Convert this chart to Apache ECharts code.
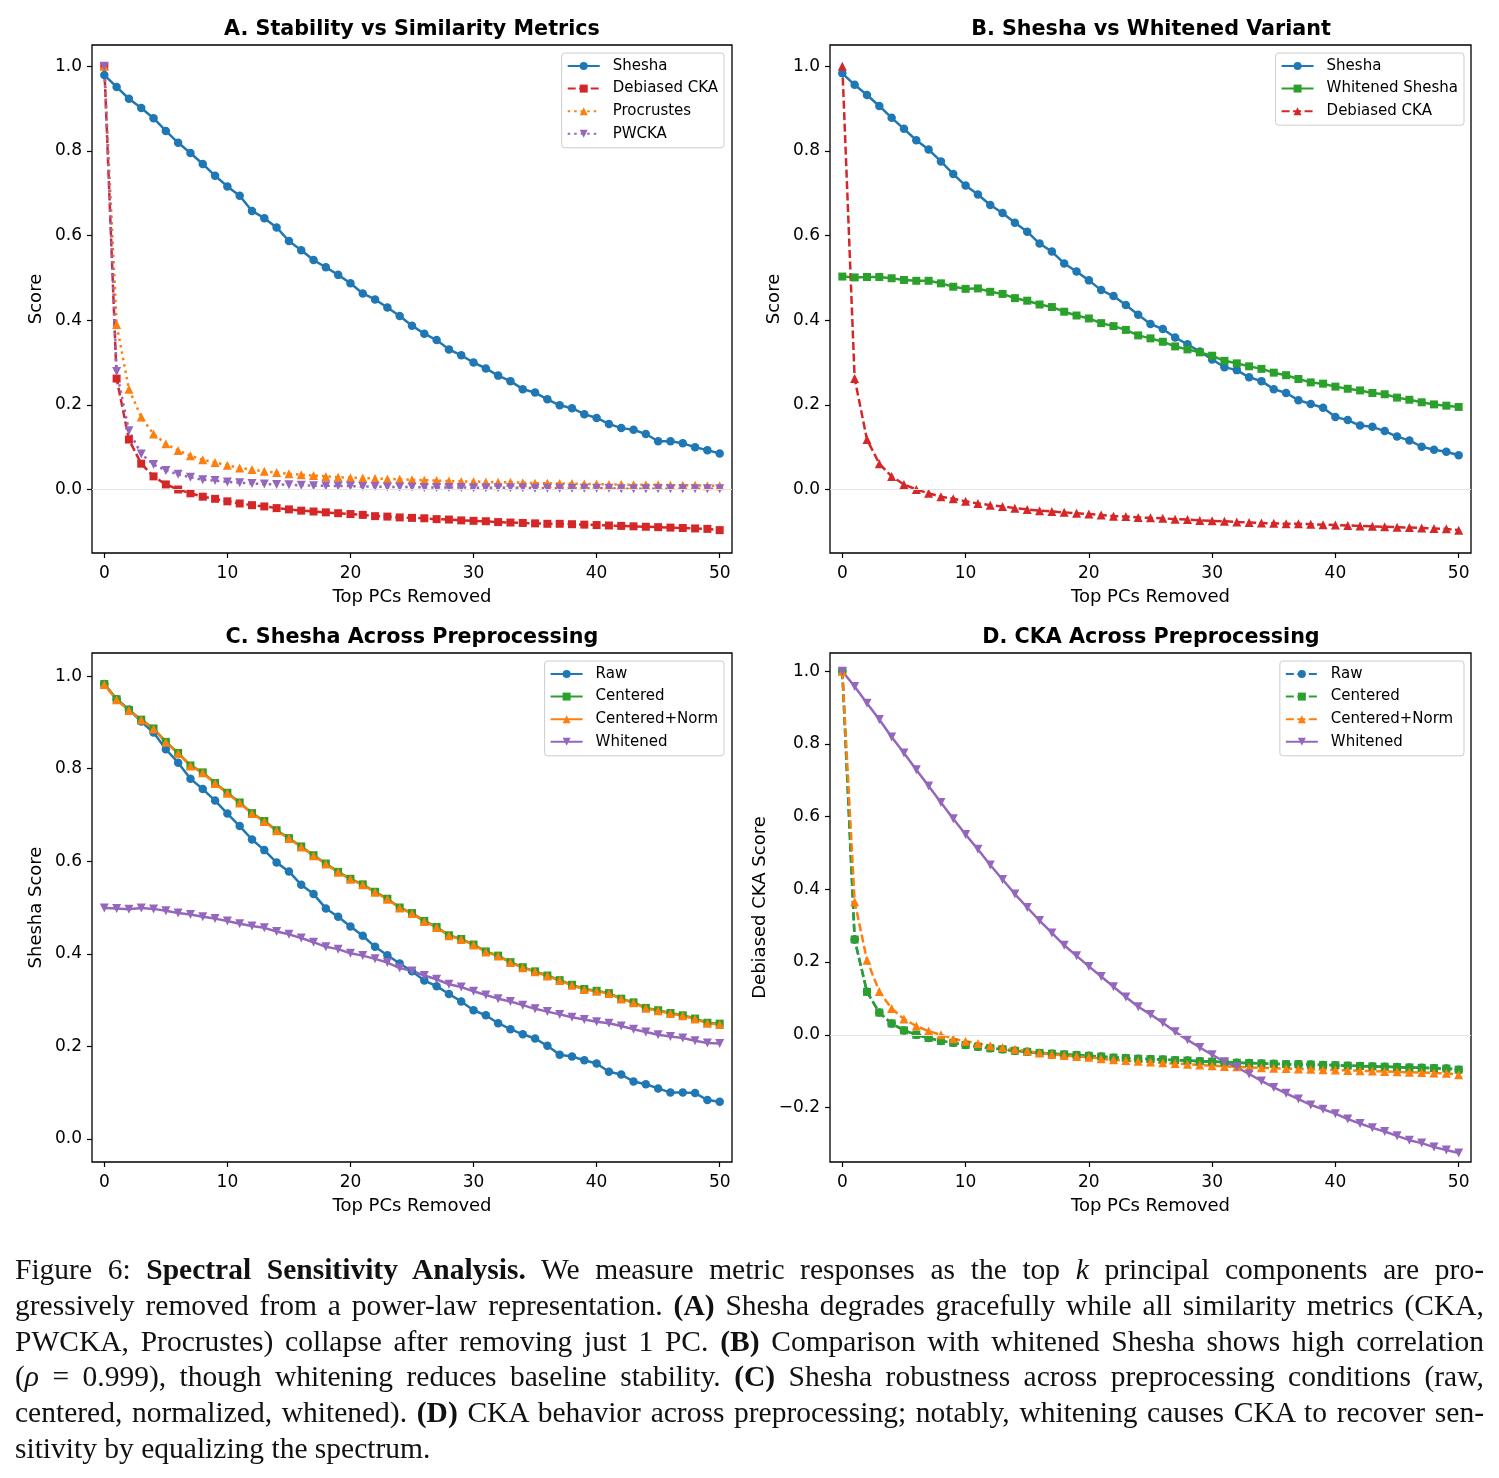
<!DOCTYPE html>
<html>
<head>
<meta charset="utf-8">
<script src="https://cdn.jsdelivr.net/npm/echarts@6/dist/echarts.min.js"></script>
<style>
  body { margin: 0; background: #fff; }
  #chart { position: absolute; left: 0; top: 0; width: 1499px; height: 1478px; }
  #caption {
    position: absolute; left: 15px; top: 1252px; width: 1469px;
    font-family: 'Liberation Serif', serif; font-size: 29.5px; line-height: 35.8px; color: #111;
  }
  #caption div { text-align: justify; text-align-last: justify; }
  #caption div.last { text-align-last: left; }
</style>
</head>
<body>
<div id="chart"></div>
<div id="caption">
  <div>Figure 6: <b>Spectral Sensitivity Analysis.</b> We measure metric responses as the top <i>k</i> principal components are pro-</div>
  <div>gressively removed from a power-law representation. <b>(A)</b> Shesha degrades gracefully while all similarity metrics (CKA,</div>
  <div>PWCKA, Procrustes) collapse after removing just 1 PC. <b>(B)</b> Comparison with whitened Shesha shows high correlation</div>
  <div>(<i>ρ</i> = 0.999), though whitening reduces baseline stability. <b>(C)</b> Shesha robustness across preprocessing conditions (raw,</div>
  <div>centered, normalized, whitened). <b>(D)</b> CKA behavior across preprocessing; notably, whitening causes CKA to recover sen-</div>
  <div class="last">sitivity by equalizing the spectrum.</div>
</div>
<script>
// x: number of top PCs removed
const pcsRemoved = [0,1,2,3,4,5,6,7,8,9,10,11,12,13,14,15,16,17,18,19,20,21,22,23,24,25,
  26,27,28,29,30,31,32,33,34,35,36,37,38,39,40,41,42,43,44,45,46,47,48,49,50]

const xTicks = [0, 10, 20, 30, 40, 50]
const yTicksTop = [0, 0.2, 0.4, 0.6, 0.8, 1.0]
const yTicksC = [0, 0.2, 0.4, 0.6, 0.8, 1.0]
const yTicksD = [-0.2, 0, 0.2, 0.4, 0.6, 0.8, 1.0]

// panel A
const sheshaA = [0.979,0.951,0.923,0.901,0.877,0.847,0.819,0.795,0.769,0.741,
  0.716,0.694,0.658,0.641,0.619,0.587,0.565,0.542,0.525,0.507,
  0.487,0.463,0.449,0.430,0.410,0.387,0.368,0.353,0.331,0.317,
  0.300,0.286,0.269,0.256,0.237,0.229,0.213,0.199,0.192,0.178,
  0.169,0.155,0.145,0.141,0.131,0.114,0.114,0.109,0.100,0.093,0.085]
const debiasedCka = [1.000,0.262,0.118,0.061,0.031,0.012,0.000,-0.009,-0.017,-0.022,
  -0.028,-0.033,-0.037,-0.040,-0.044,-0.047,-0.050,-0.052,-0.054,-0.056,
  -0.058,-0.060,-0.063,-0.064,-0.066,-0.067,-0.068,-0.070,-0.071,-0.073,
  -0.074,-0.075,-0.077,-0.078,-0.079,-0.080,-0.081,-0.081,-0.082,-0.083,
  -0.084,-0.085,-0.086,-0.087,-0.088,-0.089,-0.090,-0.091,-0.092,-0.093,-0.096]
const procrustes = [1.000,0.390,0.237,0.171,0.131,0.108,0.092,0.080,0.070,0.064,
  0.057,0.051,0.047,0.043,0.040,0.037,0.035,0.033,0.031,0.029,
  0.028,0.027,0.026,0.025,0.024,0.023,0.022,0.021,0.020,0.019,
  0.019,0.018,0.017,0.017,0.016,0.015,0.015,0.014,0.014,0.013,
  0.013,0.012,0.012,0.011,0.011,0.011,0.010,0.010,0.010,0.009,0.009]
const pwcka = [1.000,0.279,0.139,0.084,0.059,0.045,0.036,0.029,0.023,0.021,
  0.018,0.016,0.014,0.013,0.012,0.011,0.010,0.009,0.009,0.008,
  0.008,0.007,0.007,0.006,0.006,0.006,0.005,0.005,0.005,0.005,
  0.004,0.004,0.004,0.004,0.004,0.003,0.003,0.003,0.003,0.003,
  0.003,0.003,0.002,0.002,0.002,0.002,0.002,0.002,0.002,0.002,0.002]

// panel B
const sheshaB = [0.983,0.956,0.932,0.906,0.878,0.852,0.825,0.803,0.775,0.745,
  0.718,0.697,0.672,0.653,0.630,0.609,0.581,0.562,0.534,0.515,
  0.494,0.471,0.457,0.436,0.413,0.391,0.379,0.359,0.343,0.326,
  0.307,0.289,0.282,0.265,0.256,0.237,0.228,0.211,0.202,0.193,
  0.171,0.164,0.151,0.148,0.138,0.125,0.116,0.101,0.094,0.089,0.081]
const whitenedShesha = [0.503,0.501,0.502,0.502,0.499,0.495,0.493,0.493,0.487,0.479,
  0.474,0.475,0.467,0.462,0.452,0.446,0.437,0.431,0.420,0.411,
  0.404,0.393,0.386,0.377,0.364,0.357,0.349,0.338,0.331,0.324,
  0.316,0.304,0.298,0.291,0.285,0.276,0.270,0.261,0.253,0.250,
  0.243,0.238,0.234,0.228,0.225,0.217,0.212,0.206,0.201,0.198,0.195]

// panel C
const rawC = [0.983,0.950,0.928,0.902,0.878,0.842,0.813,0.778,0.756,0.731,
  0.703,0.676,0.647,0.624,0.597,0.578,0.549,0.529,0.498,0.480,
  0.459,0.439,0.415,0.397,0.379,0.362,0.342,0.330,0.313,0.297,
  0.278,0.267,0.250,0.237,0.226,0.217,0.201,0.182,0.178,0.170,
  0.163,0.145,0.139,0.124,0.118,0.109,0.100,0.100,0.099,0.084,0.080]
const centeredC = [0.983,0.950,0.927,0.906,0.887,0.858,0.834,0.807,0.792,0.769,
  0.748,0.727,0.704,0.687,0.667,0.650,0.632,0.613,0.595,0.577,
  0.562,0.550,0.534,0.519,0.500,0.488,0.471,0.458,0.440,0.432,
  0.420,0.405,0.396,0.382,0.371,0.362,0.353,0.343,0.333,0.324,
  0.320,0.315,0.303,0.295,0.283,0.278,0.272,0.267,0.260,0.251,0.249]
const centeredNormC = [0.982,0.949,0.926,0.905,0.886,0.857,0.833,0.806,0.791,0.768,
  0.747,0.726,0.703,0.686,0.666,0.649,0.631,0.612,0.594,0.576,
  0.561,0.549,0.533,0.518,0.499,0.487,0.470,0.457,0.439,0.431,
  0.419,0.404,0.395,0.381,0.370,0.361,0.352,0.342,0.332,0.323,
  0.319,0.314,0.302,0.294,0.282,0.277,0.271,0.266,0.259,0.250,0.247]
const whitenedC = [0.499,0.498,0.496,0.499,0.497,0.493,0.488,0.485,0.480,0.476,
  0.471,0.465,0.460,0.456,0.448,0.442,0.434,0.425,0.415,0.410,
  0.401,0.396,0.389,0.381,0.369,0.363,0.353,0.345,0.334,0.328,
  0.319,0.311,0.303,0.297,0.289,0.281,0.275,0.269,0.263,0.258,
  0.253,0.250,0.244,0.237,0.231,0.225,0.221,0.218,0.212,0.207,0.206]

// panel D
const centeredNormD = [1.000,0.366,0.205,0.119,0.072,0.043,0.024,0.010,0.000,-0.011,
  -0.018,-0.024,-0.030,-0.035,-0.040,-0.045,-0.050,-0.054,-0.057,-0.060,
  -0.062,-0.066,-0.069,-0.071,-0.073,-0.075,-0.077,-0.079,-0.081,-0.083,
  -0.085,-0.087,-0.088,-0.090,-0.091,-0.092,-0.093,-0.094,-0.095,-0.096,
  -0.097,-0.098,-0.099,-0.100,-0.101,-0.102,-0.103,-0.104,-0.105,-0.106,-0.110]
const whitenedD = [1.000,0.958,0.912,0.867,0.819,0.775,0.729,0.684,0.639,0.594,
  0.551,0.510,0.467,0.427,0.387,0.350,0.314,0.280,0.246,0.217,
  0.188,0.160,0.132,0.104,0.077,0.056,0.033,0.008,-0.014,-0.035,
  -0.055,-0.074,-0.089,-0.108,-0.127,-0.145,-0.161,-0.177,-0.193,-0.205,
  -0.217,-0.232,-0.244,-0.256,-0.266,-0.278,-0.290,-0.298,-0.309,-0.317,-0.325]

const BLUE = '#1f77b4', ORANGE = '#ff7f0e', GREEN = '#2ca02c', RED = '#d62728', PURPLE = '#9467bd'
const FONT = 'DejaVu Sans'
const SOLID = 'solid', DASHED = [8, 3.5], DOTTED = [2.5, 4]

let chart = echarts.init(document.getElementById('chart'))

const pair = (ys) => pcsRemoved.map((x, i) => [x, ys[i]])

const line = (name, ys, idx, color, symbol, dash) => ({
  type: 'line',
  name: name,
  xAxisIndex: idx,
  yAxisIndex: idx,
  data: pair(ys),
  z: 3,
  color: color,
  symbol: symbol === 'down' ? 'triangle' : symbol,
  symbolRotate: symbol === 'down' ? 180 : 0,
  symbolSize: symbol === 'circle' ? 8.5 : (symbol === 'rect' ? 8 : 9),
  showSymbol: true,
  showAllSymbol: true,
  lineStyle: { width: 2.5, type: dash, color: color },
  itemStyle: { color: color },
  emphasis: { disabled: true }
})

// light horizontal reference at 0
const zeroLine = (idx) => ({
  type: 'line',
  xAxisIndex: idx,
  yAxisIndex: idx,
  data: [],
  z: 1,
  markLine: {
    silent: true,
    symbol: ['none', 'none'],
    label: { show: false },
    lineStyle: { color: '#e3e3e3', width: 1, type: 'solid' },
    data: [{ yAxis: 0 }]
  }
})

const grids = [
  { left: 92, top: 45, width: 640, height: 508 },
  { left: 830, top: 45, width: 641, height: 508 },
  { left: 92, top: 653, width: 640, height: 509 },
  { left: 830, top: 653, width: 641, height: 509 }
]

const fmt = (v) => v.toFixed(1).replace('-', '\u2212')

const xAxis = (idx) => ({
  type: 'value',
  gridIndex: idx,
  min: -1,
  max: 51,
  name: 'Top PCs Removed',
  nameLocation: 'middle',
  nameGap: 35,
  nameTextStyle: { fontFamily: FONT, fontSize: 18, color: '#000' },
  axisLine: { show: false, onZero: false },
  splitLine: { show: false },
  axisTick: { show: true, length: 5, lineStyle: { color: '#000', width: 1.2 }, customValues: xTicks },
  axisLabel: { customValues: xTicks, fontFamily: FONT, fontSize: 17, color: '#000', margin: 12 }
})

const yAxis = (idx, name, min, max, ticks, gap) => ({
  type: 'value',
  gridIndex: idx,
  min: min,
  max: max,
  name: name,
  nameLocation: 'middle',
  nameGap: gap,
  nameTextStyle: { fontFamily: FONT, fontSize: 18, color: '#000' },
  axisLine: { show: false, onZero: false },
  splitLine: { show: false },
  axisTick: { show: true, length: 5, lineStyle: { color: '#000', width: 1.2 }, customValues: ticks },
  axisLabel: { customValues: ticks, formatter: fmt, fontFamily: FONT, fontSize: 17, color: '#000', margin: 10 }
})

const title = (text, x, y) => ({
  text: text,
  left: x,
  top: y,
  textAlign: 'center',
  padding: 0,
  textStyle: { fontFamily: FONT, fontSize: 20.7, fontWeight: 'bold', color: '#000' }
})

const legend = (names, right, top) => ({
  data: names,
  orient: 'vertical',
  right: right,
  top: top,
  itemWidth: 32,
  itemHeight: 10,
  itemGap: 7.6,
  padding: [5.5, 6, 6.5, 5],
  borderColor: '#cccccc',
  borderWidth: 1,
  borderRadius: 3,
  backgroundColor: 'rgba(255,255,255,0.8)',
  selectedMode: false,
  textStyle: { fontFamily: FONT, fontSize: 15, color: '#000', lineHeight: 15, padding: [0, 0, 0, 8] }
})

let option = {
  animation: false,
  backgroundColor: '#fff',
  title: [
    title('A. Stability vs Similarity Metrics', 412, 19),
    title('B. Shesha vs Whitened Variant', 1151, 19),
    title('C. Shesha Across Preprocessing', 412, 627),
    title('D. CKA Across Preprocessing', 1151, 627)
  ],
  grid: grids.map(g => Object.assign({ show: true, borderColor: '#000', borderWidth: 1.3, containLabel: false }, g)),
  xAxis: [xAxis(0), xAxis(1), xAxis(2), xAxis(3)],
  yAxis: [
    yAxis(0, 'Score', -0.15, 1.05, yTicksTop, 47),
    yAxis(1, 'Score', -0.15, 1.05, yTicksTop, 47),
    yAxis(2, 'Shesha Score', -0.05, 1.05, yTicksC, 47),
    yAxis(3, 'Debiased CKA Score', -0.35, 1.05, yTicksD, 61)
  ],
  legend: [
    legend(['Shesha', 'Debiased CKA', 'Procrustes', 'PWCKA'], 775, 53),
    legend(['Shesha ', 'Whitened Shesha', 'Debiased CKA '], 35, 53),
    legend(['Raw', 'Centered', 'Centered+Norm', 'Whitened'], 775, 661),
    legend(['Raw ', 'Centered ', 'Centered+Norm ', 'Whitened '], 35, 661)
  ],
  series: [
    zeroLine(0),
    line('Shesha', sheshaA, 0, BLUE, 'circle', SOLID),
    line('Debiased CKA', debiasedCka, 0, RED, 'rect', DASHED),
    line('Procrustes', procrustes, 0, ORANGE, 'triangle', DOTTED),
    line('PWCKA', pwcka, 0, PURPLE, 'down', DOTTED),

    zeroLine(1),
    line('Shesha ', sheshaB, 1, BLUE, 'circle', SOLID),
    line('Whitened Shesha', whitenedShesha, 1, GREEN, 'rect', SOLID),
    line('Debiased CKA ', debiasedCka, 1, RED, 'triangle', DASHED),

    line('Raw', rawC, 2, BLUE, 'circle', SOLID),
    line('Centered', centeredC, 2, GREEN, 'rect', SOLID),
    line('Centered+Norm', centeredNormC, 2, ORANGE, 'triangle', SOLID),
    line('Whitened', whitenedC, 2, PURPLE, 'down', SOLID),

    zeroLine(3),
    line('Raw ', debiasedCka, 3, BLUE, 'circle', DASHED),
    line('Centered ', debiasedCka, 3, GREEN, 'rect', DASHED),
    line('Centered+Norm ', centeredNormD, 3, ORANGE, 'triangle', DASHED),
    line('Whitened ', whitenedD, 3, PURPLE, 'down', SOLID)
  ]
}

chart.setOption(option)
</script>
</body>
</html>
